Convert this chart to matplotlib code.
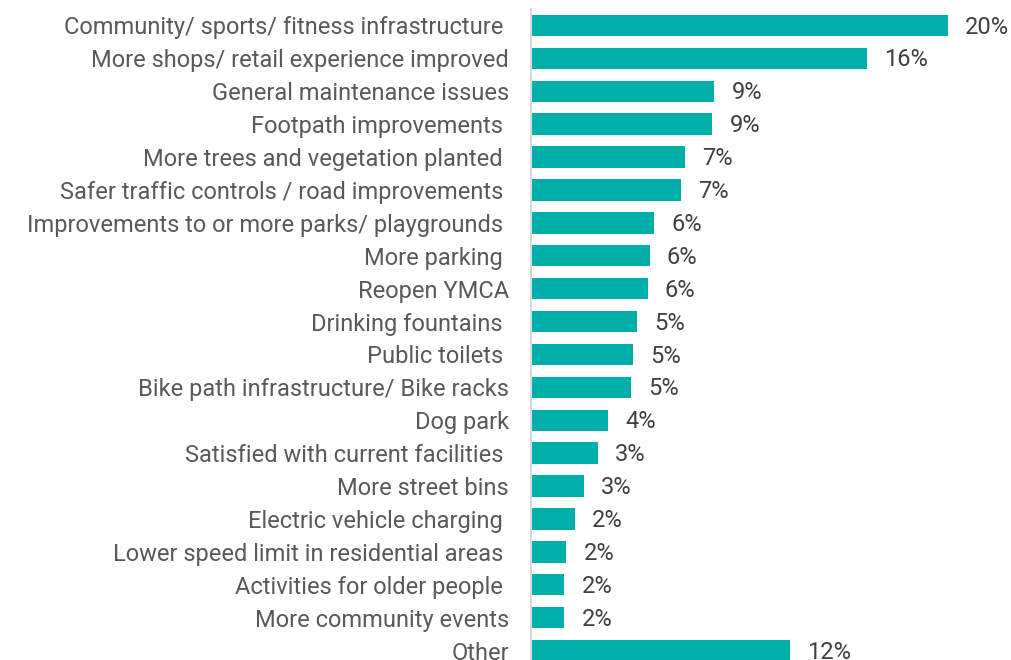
import matplotlib.pyplot as plt
import numpy as np

# survey responses, top to bottom as listed
categories = [
    'Community/ sports/ fitness infrastructure ',
    'More shops/ retail experience improved',
    'General maintenance issues',
    'Footpath improvements ',
    'More trees and vegetation planted ',
    'Safer traffic controls / road improvements ',
    'Improvements to or more parks/ playgrounds ',
    'More parking ',
    'Reopen YMCA',
    'Drinking fountains ',
    'Public toilets ',
    'Bike path infrastructure/ Bike racks',
    'Dog park',
    'Satisfied with current facilities ',
    'More street bins',
    'Electric vehicle charging ',
    'Lower speed limit in residential areas ',
    'Activities for older people ',
    'More community events',
    'Other',
]
values = [20.0, 16.1, 8.8, 8.7, 7.4, 7.2, 5.9, 5.7, 5.6, 5.1,
          4.9, 4.8, 3.7, 3.2, 2.55, 2.1, 1.7, 1.6, 1.6, 12.4]

bar_color = '#00AFAA'
label_color = '#595959'
value_color = '#404040'

plt.rcParams['font.family'] = ['Roboto', 'DejaVu Sans']

fig = plt.figure(figsize=(10.12, 6.60), dpi=100)
ax = fig.add_axes([531 / 1012, -7 / 660, 481 / 1012, 658 / 660])

y = np.arange(len(categories))
ax.barh(y, values, height=0.65, color=bar_color)
for yi, v in zip(y, values):
    ax.text(v + 0.82, yi + 0.05, '{:.0f}%'.format(v), va='center', ha='left',
            fontsize=17, color=value_color)

ax.set_ylim(len(categories) - 0.5, -0.5)
ax.set_xlim(0, 481 / 20.85)
ax.set_yticks(y)
ax.set_yticklabels(categories, fontsize=17, color=label_color)
ax.tick_params(axis='y', length=0, pad=16)
ax.set_xticks([])
for side in ['top', 'right', 'bottom']:
    ax.spines[side].set_visible(False)
ax.spines['left'].set_color('#D9D9D9')
ax.spines['left'].set_linewidth(1.5)

fig.savefig('out.png', dpi=100)
